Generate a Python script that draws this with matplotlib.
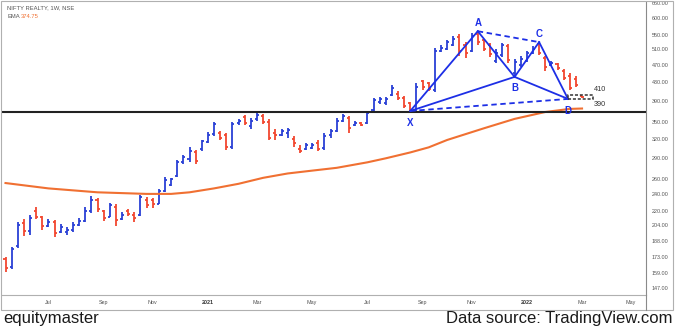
import matplotlib
matplotlib.use("Agg")
import matplotlib.pyplot as plt
import matplotlib.dates as mdates
from matplotlib.lines import Line2D
from matplotlib.patches import Rectangle
from matplotlib.ticker import FixedLocator, NullLocator
import pandas as pd

# weekly OHLC bars of NIFTY REALTY
weeks = pd.date_range("2020-05-18", periods=95, freq="W-MON")
opens = [171, 164, 183, 206, 198, 220, 213, 203, 207, 197, 197, 199, 204, 208, 220, 232,
         219, 213, 224, 210, 219, 215, 215, 232, 232, 228, 244, 252, 263, 284, 288, 298,
         303, 315, 328, 330, 326, 307, 347, 358, 342, 355, 360, 350, 330, 327, 330, 320,
         303, 303, 305, 313, 305, 326, 333, 352, 356, 344, 347, 348, 372, 388, 385, 403,
         405, 396, 385, 372, 432, 428, 412, 506, 512, 522, 545, 522, 505, 552, 535, 522,
         480, 495, 520, 452, 470, 480, 500, 525, 488, 470, 472, 456, 445, 438, 400]
highs = [173, 182, 207, 211, 215, 224, 214, 210, 209, 205, 202, 207, 212, 224, 238, 235,
         221, 229, 228, 218, 222, 218, 239, 236, 235, 246, 262, 261, 286, 294, 306, 302,
         318, 331, 349, 333, 330, 350, 355, 362, 357, 368, 365, 354, 337, 337, 339, 324,
         309, 313, 313, 318, 330, 337, 357, 365, 361, 351, 349, 370, 396, 398, 397, 423,
         410, 400, 388, 428, 436, 431, 514, 522, 537, 546, 554, 530, 556, 562, 540, 528,
         510, 528, 526, 486, 492, 505, 518, 530, 492, 480, 475, 460, 450, 443, 401]
lows = [160, 162, 181, 193, 194, 210, 199, 202, 192, 196, 194, 197, 203, 207, 217, 218,
        208, 213, 203, 209, 214, 207, 214, 223, 223, 228, 242, 250, 262, 281, 283, 280,
        301, 313, 325, 318, 302, 304, 344, 344, 337, 352, 346, 318, 318, 324, 322, 307,
        297, 302, 303, 300, 302, 321, 331, 349, 330, 342, 342, 346, 370, 383, 382, 400,
        392, 375, 368, 370, 413, 410, 408, 503, 508, 518, 492, 488, 503, 522, 505, 490,
        475, 490, 475, 443, 466, 477, 498, 495, 456, 468, 458, 434, 412, 420, 395]
closes = [163, 180, 204, 198, 212, 213, 203, 207, 196, 202, 199, 204, 208, 220, 233, 222,
          212, 226, 209, 215, 216, 212, 236, 226, 228, 244, 258, 259, 283, 291, 300, 285,
          316, 327, 345, 322, 306, 345, 352, 348, 352, 363, 350, 322, 327, 333, 335, 313,
          300, 310, 309, 303, 325, 333, 352, 360, 338, 348, 344, 367, 392, 394, 393, 418,
          395, 380, 372, 420, 420, 415, 505, 515, 530, 538, 505, 500, 548, 530, 512, 498,
          500, 522, 482, 478, 485, 500, 512, 500, 465, 476, 462, 440, 418, 424, 397]

# EMA line, sampled at bar numbers
ema_bars = [1, 8, 16, 24, 28, 31, 35, 39, 43, 47, 51, 55, 60, 63, 67, 70, 73, 79, 84, 89, 93, 95]
ema_vals = [254, 247, 242, 240, 240, 242, 247, 253, 261, 267, 271, 275, 283, 289, 298, 306,
            318, 338, 355, 368, 374, 374.75]

# XABCD harmonic pattern
pat_names = ["X", "A", "B", "C", "D"]
pat_dates = pd.to_datetime(["2021-08-23", "2021-11-08", "2021-12-20", "2022-01-17", "2022-02-19"])
pat_prices = [370, 561, 442, 530, 394]

support = 368
zone_low, zone_high = 393, 403
zone_dates = pd.to_datetime(["2022-02-19", "2022-03-20"])
zone_labels = ["410", "390"]

yticks = [147, 159, 173, 188, 204, 220, 240, 260, 290, 320, 350, 390, 430, 470, 510, 550, 600, 650]
xtick_dates = pd.to_datetime(["2020-07-06", "2020-09-07", "2020-11-02", "2021-01-04", "2021-03-01",
                              "2021-05-03", "2021-07-05", "2021-09-06", "2021-11-01", "2022-01-03",
                              "2022-03-07", "2022-05-02"])
xtick_labels = ["Jul", "Sep", "Nov", "2021", "Mar", "May", "Jul", "Sep", "Nov", "2022", "Mar", "May"]

UP = "#2a40d6"
DOWN = "#f2472f"
EMA_C = "#f07032"
PAT = "#1d2fe6"
GREY = "#555555"

plt.rcParams["font.family"] = ["Liberation Sans", "DejaVu Sans"]

W, H = 675, 330
fig = plt.figure(figsize=(W / 100, H / 100), dpi=100)
ax = fig.add_axes([2 / W, 1 - 295 / H, 644 / W, 293 / H])

x = mdates.date2num(weeks)
d = 2.3
for xi, o, h, l, c in zip(x, opens, highs, lows, closes):
    col = UP if c >= o else DOWN
    ax.vlines(xi, l, h, color=col, lw=1.3)
    ax.hlines(o, xi - d, xi, color=col, lw=1.3)
    ax.hlines(c, xi, xi + d, color=col, lw=1.3)

ema_x = [x[i - 1] for i in ema_bars]
ax.plot(ema_x, ema_vals, color=EMA_C, lw=1.5, zorder=3)

ax.axhline(support, color="#222222", lw=1.5, zorder=4)

# pattern legs
px = mdates.date2num(pat_dates)
P = dict(zip(pat_names, zip(px, pat_prices)))
for a, b in [("X", "A"), ("A", "B"), ("B", "C"), ("C", "D"), ("X", "B"), ("B", "D")]:
    ax.plot([P[a][0], P[b][0]], [P[a][1], P[b][1]], color=PAT, lw=1.3, zorder=5)
for a, b in [("A", "C"), ("X", "D")]:
    ax.plot([P[a][0], P[b][0]], [P[a][1], P[b][1]], color=PAT, lw=1.3, ls=(0, (3, 2)), zorder=5)
offs = {"X": -9, "A": 6, "B": -8, "C": 6, "D": -9}
for n in pat_names:
    ax.annotate(n, P[n], xytext=(0, offs[n]), textcoords="offset points", ha="center",
                va="center", color=PAT, fontsize=7, fontweight="bold", zorder=6)

# target zone
zx = mdates.date2num(zone_dates)
ax.add_patch(Rectangle((zx[0], zone_low), zx[1] - zx[0], zone_high - zone_low, fill=False,
                       ec="#333333", lw=1.1, ls=(0, (2, 1.2)), zorder=6))
ax.text(zx[1], 413, zone_labels[0], fontsize=5.2, color="#333333", ha="left", va="center")
ax.text(zx[1], 383, zone_labels[1], fontsize=5.2, color="#333333", ha="left", va="center")

ax.set_yscale("log")
ax.set_ylim(141.6, 653.4)
ax.set_xlim(mdates.date2num(pd.Timestamp("2020-05-14")), mdates.date2num(pd.Timestamp("2022-05-19")))

ax.yaxis.tick_right()
ax.yaxis.set_major_locator(FixedLocator(yticks))
ax.yaxis.set_minor_locator(NullLocator())
ax.set_yticklabels([f"{v:.2f}" for v in yticks])
ax.tick_params(axis="y", length=0, pad=4.2, labelsize=3.9, labelcolor=GREY)

ax.set_xticks(mdates.date2num(xtick_dates))
ax.set_xticklabels(xtick_labels)
ax.tick_params(axis="x", length=0, pad=3.3, labelsize=3.9, labelcolor=GREY)
for t in ax.get_xticklabels():
    if t.get_text().startswith("20"):
        t.set_fontweight("bold")
        t.set_color("#333333")

for s in ["left", "top"]:
    ax.spines[s].set_visible(False)
ax.spines["right"].set_color("#8a8a8a")
ax.spines["bottom"].set_color("#b0b0b0")
ax.spines["right"].set_linewidth(0.8)
ax.spines["bottom"].set_linewidth(0.8)

# header
ax.text(5 / 644, 1 - 6 / 293, "NIFTY REALTY, 1W, NSE", transform=ax.transAxes, fontsize=4.2,
        color=GREY, va="center", ha="left")
ax.text(5 / 644, 1 - 15 / 293, "EMA", transform=ax.transAxes, fontsize=4.2,
        color=GREY, va="center", ha="left")
ax.text(19 / 644, 1 - 15 / 293, f"{ema_vals[-1]:.2f}", transform=ax.transAxes, fontsize=4.2,
        color=EMA_C, va="center", ha="left")

# outer frame and axis separators
fig.add_artist(Rectangle((1 / W, 1 - 310 / H), 672 / W, 309 / H, transform=fig.transFigure,
                         fill=False, ec="#b0b0b0", lw=0.8))
fig.add_artist(Line2D([646 / W, 646 / W], [1 - 310 / H, 1 - 295 / H], transform=fig.transFigure,
                      color="#8a8a8a", lw=0.8))

fig.text(3 / W, 1 - 318 / H, "equitymaster", fontsize=12, color="#1a1a1a", va="center", ha="left")
fig.text(672 / W, 1 - 318 / H, "Data source: TradingView.com", fontsize=12, color="#1a1a1a",
         va="center", ha="right")

fig.savefig("out.png", dpi=100)
